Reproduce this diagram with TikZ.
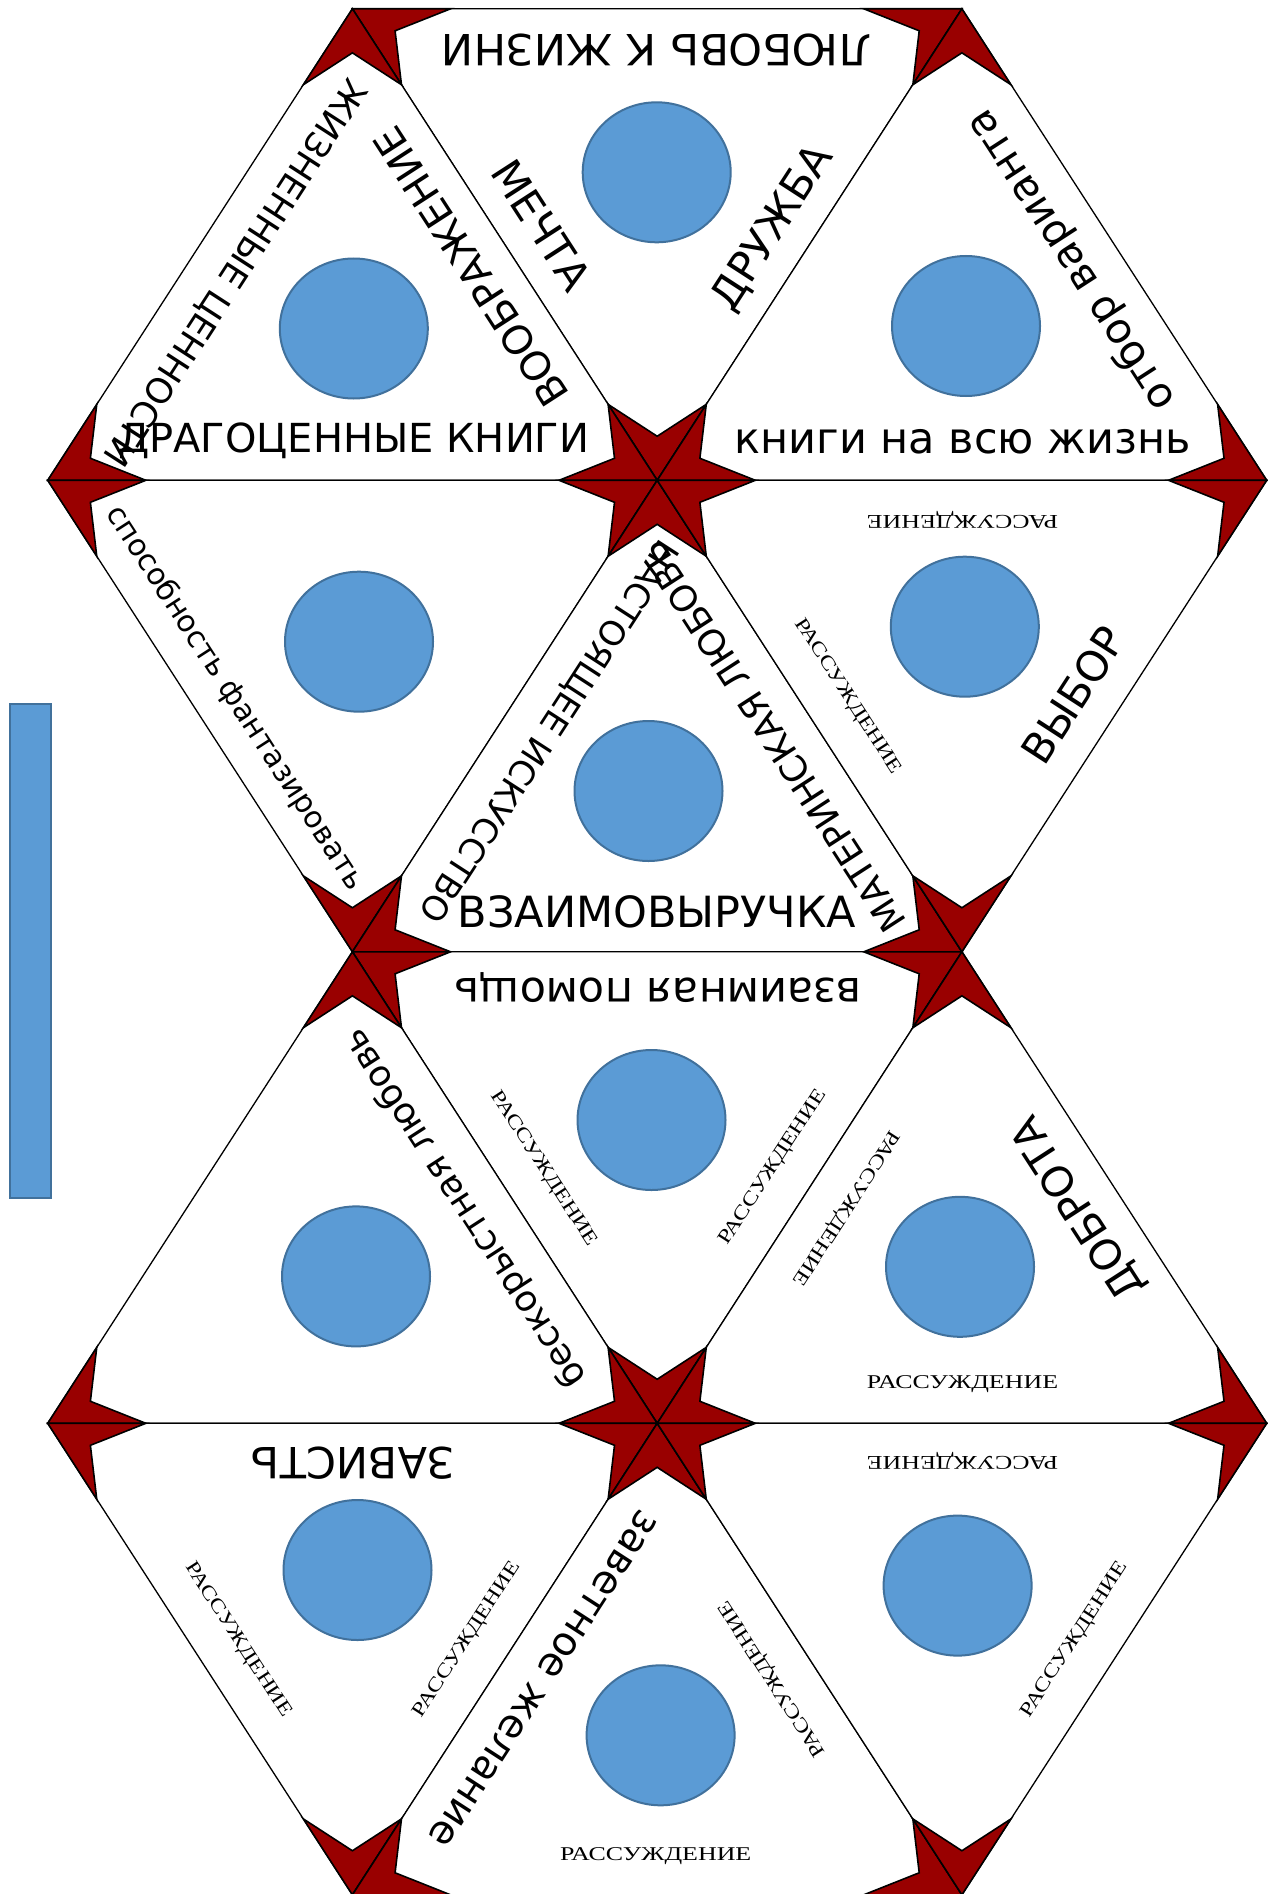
\documentclass[tikz,border=0pt]{standalone}
\usepackage{fontspec}
\setmainfont{DejaVu Sans}
\newfontfamily\rfont[FakeStretch=1.33]{Liberation Serif}
\newfontfamily\rfontd[FakeStretch=1.26]{Liberation Serif}
\usepackage{tikz}
\usetikzlibrary{positioning, shapes.geometric}
\usetikzlibrary{calc}
\definecolor{starred}{RGB}{153,0,0}
\definecolor{discblue}{RGB}{91,155,213}
\definecolor{discline}{RGB}{65,113,156}
\tikzstyle{tri} = [fill=white, draw=black, line width=1.3pt]
\tikzstyle{star} = [fill=starred, draw=black, line width=1.6pt]
\tikzstyle{disc} = [ellipse, fill=discblue, draw=discline, line width=2pt, minimum width=148pt, minimum height=140pt, inner sep=0pt]
\tikzstyle{rass} = [font=\rfont\fontsize{19.5}{19.5}\selectfont, inner sep=0pt]
\tikzstyle{rassd} = [font=\rfontd\fontsize{19.5}{19.5}\selectfont, inner sep=0pt]
\tikzset{lbl/.style={font=\fontsize{#1}{#1}\selectfont, inner sep=0pt}}

% уголок звезды в вершине #1 треугольника #1#2#3
\newcommand{\kite}[3]{%
  \coordinate (ka) at ($(#1)!0.161!(#2)$);
  \coordinate (kb) at ($(#1)!0.161!(#3)$);
  \draw[star] (#1) -- (ka) -- ($0.42*(#1)+0.29*(ka)+0.29*(kb)$) -- (kb) -- cycle;}
\newcommand{\tridraw}[3]{%
  \draw[tri] (#1) -- (#2) -- (#3) -- cycle;
  \kite{#1}{#2}{#3}\kite{#2}{#3}{#1}\kite{#3}{#1}{#2}}

\begin{document}
\begin{tikzpicture}[x=1pt, y=-1pt]
    \useasboundingbox (0,0) rectangle (1268,1894);
    %вершины сетки
    \coordinate (v10) at (352.4,8.8);
    \coordinate (v30) at (961.9,8.8);
    \coordinate (v01) at (47.7,480.3);
    \coordinate (v21) at (657.2,480.3);
    \coordinate (v41) at (1266.7,480.3);
    \coordinate (v12) at (352.4,951.8);
    \coordinate (v32) at (961.9,951.8);
    \coordinate (v03) at (47.7,1423.3);
    \coordinate (v23) at (657.2,1423.3);
    \coordinate (v43) at (1266.7,1423.3);
    \coordinate (v14) at (352.4,1894.8);
    \coordinate (v34) at (961.9,1894.8);

    %треугольники со звёздами
    \tridraw{v10}{v30}{v21}
    \tridraw{v10}{v21}{v01}
    \tridraw{v30}{v41}{v21}
    \tridraw{v01}{v21}{v12}
    \tridraw{v21}{v32}{v12}
    \tridraw{v21}{v41}{v32}
    \tridraw{v12}{v32}{v23}
    \tridraw{v12}{v23}{v03}
    \tridraw{v32}{v43}{v23}
    \tridraw{v03}{v23}{v14}
    \tridraw{v23}{v34}{v14}
    \tridraw{v23}{v43}{v34}

    %полоска слева
    \draw[fill=discblue, draw=discline, line width=2pt] (9.5,704) rectangle (51,1198);

    %круги
    \node (d1) [disc] at (656.7,172.3) {};
    \node (d2) [disc] at (353.8,328.5) {};
    \node (d3) [disc] at (966,326) {};
    \node (d4) [disc] at (359,641.7) {};
    \node (d5) [disc] at (648.5,791) {};
    \node (d6) [disc] at (964.8,626.7) {};
    \node (d7) [disc] at (651.5,1120) {};
    \node (d8) [disc] at (356,1276.4) {};
    \node (d9) [disc] at (960,1266.8) {};
    \node (d10) [disc] at (357.5,1570) {};
    \node (d11) [disc] at (660.6,1735.3) {};
    \node (d12) [disc] at (957.6,1585.6) {};

    %верхний шестиугольник
    \node (t1) [lbl=43, rotate=180] at (656.5,50) {ЛЮБОВЬ К ЖИЗНИ};
    \node (t2) [lbl=42, rotate=-57.09] at (541.7,225) {МЕЧТА};
    \node (t3) [lbl=42, rotate=57.09] at (773.3,228.3) {ДРУЖБА};
    \node (t4) [lbl=35, rotate=-122.91] at (234,272) {ЖИЗНЕННЫЕ ЦЕННОСТИ};
    \node (t5) [lbl=40, rotate=122.91] at (471,267) {ВООБРАЖЕНИЕ};
    \node (t6) [lbl=40] at (353.8,440.8) {ДРАГОЦЕННЫЕ КНИГИ};
    \node (t7) [lbl=42, rotate=122.91] at (1071.7,260) {отбор варианта};
    \node (t8) [lbl=43] at (962.5,442) {книги на всю жизнь};
    \node (t9) [lbl=30, rotate=-57.09] at (235,698.3) {способность фантазировать};
    \node (t10) [lbl=34, rotate=-122.91] at (547.5,730.6) {НАСТОЯЩЕЕ ИСКУССТВО};
    \node (t11) [lbl=36, rotate=122.91] at (772.9,736.6) {МАТЕРИНСКАЯ ЛЮБОВЬ};
    \node (t12) [lbl=43] at (657,911.7) {ВЗАИМОВЫРУЧКА};
    \node (t13) [rass, rotate=180] at (962.5,519.7) {РАССУЖДЕНИЕ};
    \node (t14) [rassd, rotate=-57.09] at (847.5,696.7) {РАССУЖДЕНИЕ};
    \node (t15) [lbl=42, rotate=57.09] at (1073.3,695) {ВЫБОР};

    %нижний шестиугольник
    \node (b1) [lbl=43, rotate=180] at (658,987.8) {взаимная помощь};
    \node (b2) [rassd, rotate=-57.09] at (543.3,1169) {РАССУЖДЕНИЕ};
    \node (b3) [rassd, rotate=57.09] at (773.3,1167.5) {РАССУЖДЕНИЕ};
    \node (b4) [lbl=36, rotate=122.91] at (465,1207.6) {бескорыстная любовь};
    \node (b5) [lbl=42, rotate=122.91] at (1078.4,1207.6) {ДОБРОТА};
    \node (b6) [rassd, rotate=-122.91] at (845.3,1207.6) {РАССУЖДЕНИЕ};
    \node (b7) [rass] at (962.5,1384) {РАССУЖДЕНИЕ};
    \node (b8) [lbl=43, rotate=180] at (352.6,1463.6) {ЗАВИСТЬ};
    \node (b9) [rassd, rotate=-57.09] at (237.9,1640) {РАССУЖДЕНИЕ};
    \node (b10) [rassd, rotate=57.09] at (467.3,1640) {РАССУЖДЕНИЕ};
    \node (b11) [lbl=40, rotate=-122.91] at (543.4,1678.6) {заветное желание};
    \node (b12) [rassd, rotate=122.91] at (772.9,1678.6) {РАССУЖДЕНИЕ};
    \node (b13) [rass] at (655.7,1856) {РАССУЖДЕНИЕ};
    \node (b14) [rass, rotate=180] at (962.5,1461.2) {РАССУЖДЕНИЕ};
    \node (b15) [rassd, rotate=57.09] at (1074.8,1640) {РАССУЖДЕНИЕ};
\end{tikzpicture}
\end{document}
